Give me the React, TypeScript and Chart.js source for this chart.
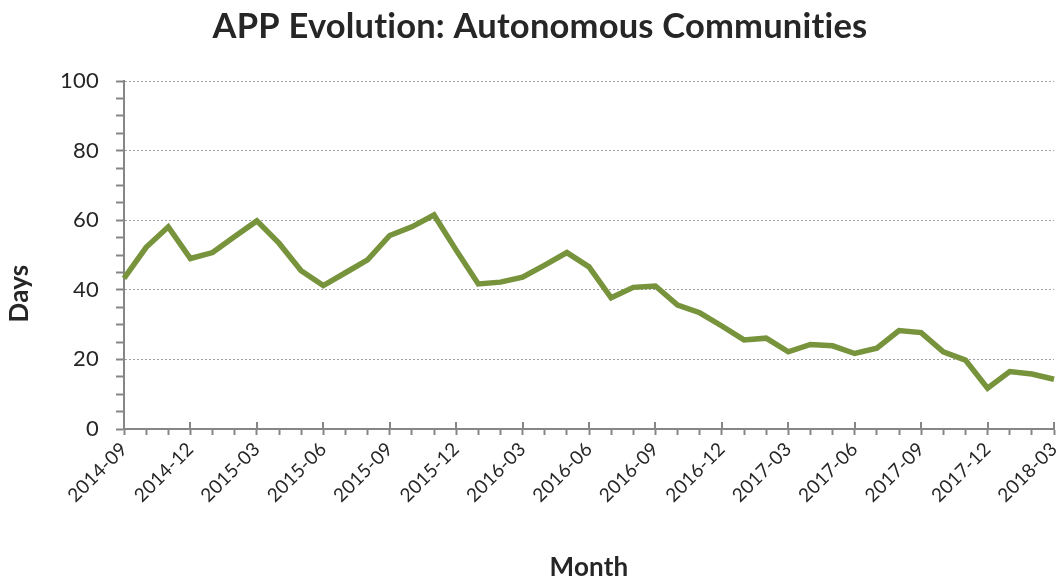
import React, { useEffect, useRef } from "react";
import { Chart, registerables } from "chart.js";

Chart.register(...registerables);

// Monthly categories, 2014-09 through 2018-03
const months: string[] = [
  "2014-09", "2014-10", "2014-11", "2014-12",
  "2015-01", "2015-02", "2015-03", "2015-04", "2015-05", "2015-06",
  "2015-07", "2015-08", "2015-09", "2015-10", "2015-11", "2015-12",
  "2016-01", "2016-02", "2016-03", "2016-04", "2016-05", "2016-06",
  "2016-07", "2016-08", "2016-09", "2016-10", "2016-11", "2016-12",
  "2017-01", "2017-02", "2017-03", "2017-04", "2017-05", "2017-06",
  "2017-07", "2017-08", "2017-09", "2017-10", "2017-11", "2017-12",
  "2018-01", "2018-02", "2018-03",
];

// Average payment period (days) per month
const days: number[] = [
  43.3, 52.2, 58.1, 49.0, 50.7, 55.3, 59.8, 53.4, 45.5, 41.2,
  44.9, 48.6, 55.6, 58.1, 61.5, 51.4, 41.7, 42.2, 43.6, 47.1,
  50.7, 46.6, 37.7, 40.7, 41.1, 35.6, 33.4, 29.6, 25.6, 26.1,
  22.2, 24.3, 23.9, 21.7, 23.2, 28.3, 27.7, 22.2, 19.8, 11.7,
  16.5, 15.8, 14.3,
];

// Labelled values on the y axis (minor ticks every 5)
const yLabelValues: number[] = [0, 20, 40, 60, 80, 100];
const labelEvery = 3; // one x label per quarter

const TEXT = "#262626";
const AXIS = "#868686";
const GRID = "#a0a0a0";
const LINE = "#77933C";
const FONT = "Lato";

// Slight letter spacing keeps the canvas from forming "ti" ligatures.
const textSetup = {
  id: "textSetup",
  beforeDraw(chart: any) {
    chart.ctx.letterSpacing = "0.2px";
  },
};

// Draws the rotated y-axis title centred on the canvas height and the
// upward half of the quarterly x-axis tick marks.
const axisExtras = {
  id: "axisExtras",
  afterDraw(chart: any) {
    const { ctx } = chart;
    const x = chart.scales.x;
    ctx.save();
    ctx.strokeStyle = AXIS;
    ctx.lineWidth = 2;
    months.forEach((_, i) => {
      if (i % labelEvery !== 0) return;
      const px = Math.round(x.getPixelForValue(i));
      ctx.beginPath();
      ctx.moveTo(px, x.top - 7);
      ctx.lineTo(px, x.top);
      ctx.stroke();
    });
    ctx.restore();

    ctx.save();
    ctx.translate(28, chart.height / 2 + 3);
    ctx.rotate(-Math.PI / 2);
    ctx.font = `bold 26px ${FONT}`;
    ctx.fillStyle = TEXT;
    ctx.textAlign = "center";
    ctx.textBaseline = "alphabetic";
    ctx.fillText("Days", 0, 0);
    ctx.restore();
  },
};

export default function App() {
  const canvasRef = useRef<HTMLCanvasElement | null>(null);

  useEffect(() => {
    if (!canvasRef.current) return;
    const chart = new Chart(canvasRef.current, {
      type: "line",
      data: {
        labels: months,
        datasets: [
          {
            label: "Days",
            data: days,
            borderColor: LINE,
            backgroundColor: LINE,
            borderWidth: 5.5,
            pointRadius: 0,
            tension: 0,
            fill: false,
          },
        ],
      },
      options: {
        animation: false,
        responsive: true,
        maintainAspectRatio: false,
        layout: { padding: { left: 26, right: 5, top: 0, bottom: 0 } },
        plugins: {
          legend: { display: false },
          tooltip: { enabled: false },
          title: {
            display: true,
            text: "APP Evolution: Autonomous Communities",
            color: TEXT,
            font: { family: FONT, size: 34.5, weight: "bold", lineHeight: 1.2 },
            padding: { top: 6, bottom: 33.6 },
          },
        },
        scales: {
          x: {
            type: "category",
            offset: false,
            grid: {
              drawOnChartArea: false,
              drawTicks: true,
              tickLength: 6,
              tickColor: AXIS,
              tickWidth: 2,
            },
            border: { color: AXIS, width: 2 },
            ticks: {
              autoSkip: false,
              maxRotation: 45,
              minRotation: 45,
              padding: 3,
              color: TEXT,
              font: { family: FONT, size: 19 },
              callback: (_v: any, i: number) => (i % labelEvery === 0 ? months[i] : ""),
            },
            title: {
              display: true,
              text: "Month",
              color: TEXT,
              font: { family: FONT, size: 26, weight: "bold", lineHeight: 1 },
              padding: { top: 0, bottom: 0 },
            },
            afterFit: (s: any) => {
              s.height = 152;
              s.paddingLeft = 0;
              s.paddingRight = 0;
            },
          },
          y: {
            min: 0,
            max: 100,
            grid: {
              color: (c: any) =>
                c.tick && c.tick.value !== 0 && yLabelValues.includes(c.tick.value)
                  ? GRID
                  : "rgba(0,0,0,0)",
              lineWidth: 1,
              tickLength: 8,
              tickColor: AXIS,
              tickWidth: 2,
            },
            border: { color: AXIS, width: 2, dash: [2, 2] },
            ticks: {
              stepSize: 5,
              autoSkip: false,
              padding: 17,
              color: TEXT,
              font: { family: FONT, size: 22 },
              callback: (v: any) => (yLabelValues.includes(Number(v)) ? String(v) : ""),
            },
            afterFit: (s: any) => {
              s.width = 98;
              s.paddingTop = 0;
              s.paddingBottom = 0;
            },
          },
        },
      },
      plugins: [textSetup, axisExtras],
    });
    return () => chart.destroy();
  }, []);

  return (
    <div style={{ position: "absolute", left: 0, top: 0, width: 1059, height: 581 }}>
      <canvas ref={canvasRef} />
    </div>
  );
}
